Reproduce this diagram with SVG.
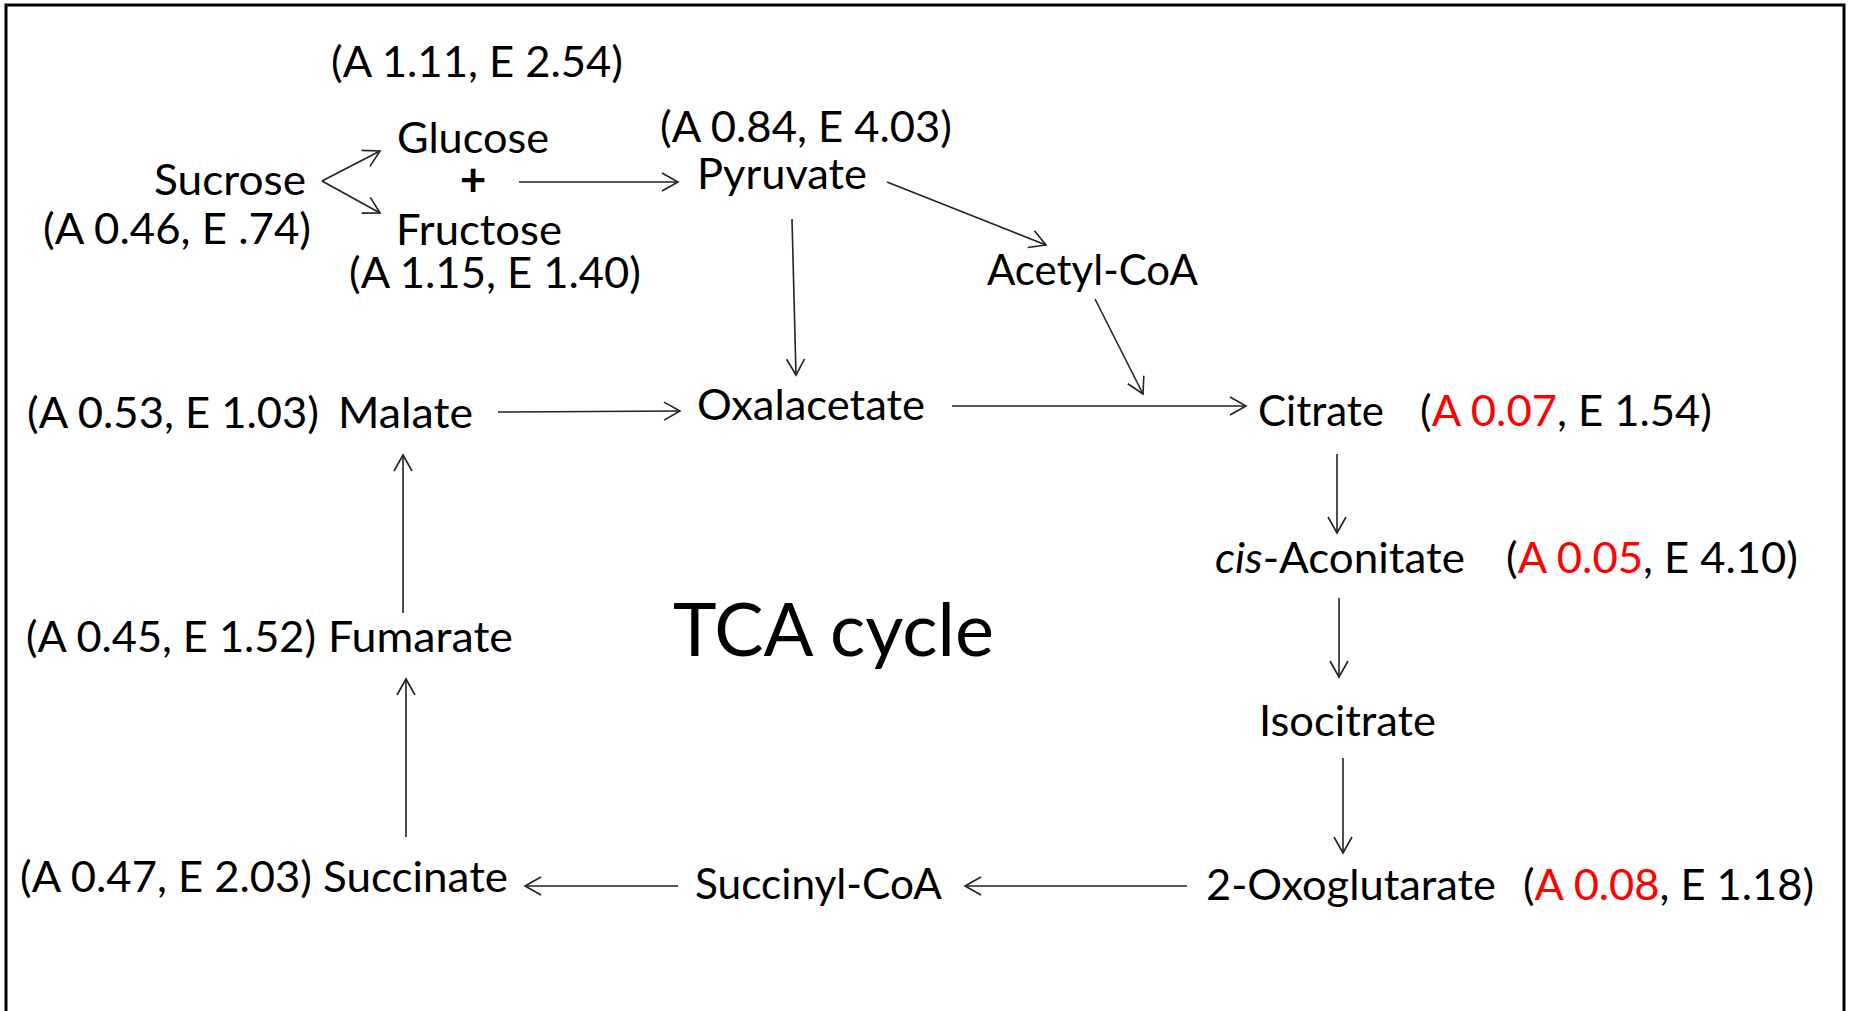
<svg xmlns="http://www.w3.org/2000/svg" width="1849" height="1011" viewBox="0 0 1849 1011">
<style>
text{font-family:Lato,"Open Sans","Liberation Sans",sans-serif;font-size:42.5px;fill:#000}
.big{font-size:74px}
.red{fill:#FF0000}
.conn line{stroke:#222;stroke-width:1.6;fill:none;marker-end:url(#ah)}
</style>
<defs>
<marker id="ah" markerUnits="userSpaceOnUse" viewBox="-18 -11 20 22" refX="0" refY="0" markerWidth="20" markerHeight="22" orient="auto">
<path d="M-16,-9 L0,0 L-16,9" fill="none" stroke="#222" stroke-width="1.6"/>
</marker>
</defs>
<rect x="0" y="0" width="1849" height="1011" fill="#fff"/>
<rect x="6" y="5" width="1838" height="1030" fill="none" stroke="#000" stroke-width="3"/>

<g id="sucrose"><text x="154" y="195" textLength="152" lengthAdjust="spacingAndGlyphs">Sucrose</text>
<text x="43" y="244" textLength="268" lengthAdjust="spacingAndGlyphs">(A 0.46, E .74)</text></g>
<g id="glucose"><text x="331" y="77" textLength="292" lengthAdjust="spacingAndGlyphs">(A 1.11, E 2.54)</text>
<text x="397" y="153" textLength="152" lengthAdjust="spacingAndGlyphs">Glucose</text></g>
<g id="plus"><text x="473" y="196" text-anchor="middle" font-weight="bold" style="font-size:46px">+</text></g>
<g id="fructose"><text x="396" y="245" textLength="166" lengthAdjust="spacingAndGlyphs">Fructose</text>
<text x="349" y="288" textLength="292" lengthAdjust="spacingAndGlyphs">(A 1.15, E 1.40)</text></g>
<g id="pyruvate"><text x="660" y="142" textLength="292" lengthAdjust="spacingAndGlyphs">(A 0.84, E 4.03)</text>
<text x="697" y="189" textLength="170" lengthAdjust="spacingAndGlyphs">Pyruvate</text></g>
<g id="acetylcoa"><text x="987" y="285" textLength="211" lengthAdjust="spacingAndGlyphs">Acetyl-CoA</text></g>
<g id="oxalacetate"><text x="697" y="420" textLength="228" lengthAdjust="spacingAndGlyphs">Oxalacetate</text></g>
<g id="malate"><text x="27" y="428" textLength="292" lengthAdjust="spacingAndGlyphs">(A 0.53, E 1.03)</text>
<text x="338" y="428" textLength="135" lengthAdjust="spacingAndGlyphs">Malate</text></g>
<g id="citrate"><text x="1258" y="426" textLength="126" lengthAdjust="spacingAndGlyphs">Citrate</text>
<text x="1420" y="426" textLength="292" lengthAdjust="spacingAndGlyphs">(<tspan class="red">A 0.07</tspan>, E 1.54)</text></g>
<g id="cisaconitate"><text x="1215" y="573" textLength="250" lengthAdjust="spacingAndGlyphs"><tspan font-style="italic">cis</tspan>-Aconitate</text>
<text x="1506" y="573" textLength="292" lengthAdjust="spacingAndGlyphs">(<tspan class="red">A 0.05</tspan>, E 4.10)</text></g>
<g id="isocitrate"><text x="1259" y="736" textLength="177" lengthAdjust="spacingAndGlyphs">Isocitrate</text></g>
<g id="oxoglutarate"><text x="1206" y="900" textLength="290" lengthAdjust="spacingAndGlyphs">2-Oxoglutarate</text>
<text x="1523" y="900" textLength="291" lengthAdjust="spacingAndGlyphs">(<tspan class="red">A 0.08</tspan>, E 1.18)</text></g>
<g id="succinylcoa"><text x="695" y="899" textLength="247" lengthAdjust="spacingAndGlyphs">Succinyl-CoA</text></g>
<g id="succinate"><text x="20" y="892" textLength="292" lengthAdjust="spacingAndGlyphs">(A 0.47, E 2.03)</text>
<text x="323" y="892" textLength="185" lengthAdjust="spacingAndGlyphs">Succinate</text></g>
<g id="fumarate"><text x="26" y="652" textLength="290" lengthAdjust="spacingAndGlyphs">(A 0.45, E 1.52)</text>
<text x="328" y="652" textLength="185" lengthAdjust="spacingAndGlyphs">Fumarate</text></g>
<g id="tca"><text class="big" x="673" y="656" textLength="321" lengthAdjust="spacingAndGlyphs">TCA cycle</text></g>

<g id="connectors" class="conn">
<line x1="322" y1="181" x2="380" y2="151"/>
<line x1="322" y1="181" x2="380" y2="213"/>
<line x1="519" y1="182" x2="678" y2="182"/>
<line x1="887" y1="182" x2="1046" y2="245"/>
<line x1="792" y1="219" x2="796" y2="375"/>
<line x1="1095" y1="299" x2="1143" y2="394"/>
<line x1="952" y1="406" x2="1246" y2="406"/>
<line x1="498" y1="412" x2="680" y2="411"/>
<line x1="1337" y1="454" x2="1337" y2="533"/>
<line x1="1339" y1="598" x2="1339" y2="677"/>
<line x1="1343" y1="758" x2="1343" y2="853"/>
<line x1="1187" y1="886" x2="965" y2="886"/>
<line x1="678" y1="886" x2="525" y2="886"/>
<line x1="406" y1="837" x2="406" y2="679"/>
<line x1="403" y1="613" x2="403" y2="455"/>
</g>
</svg>
